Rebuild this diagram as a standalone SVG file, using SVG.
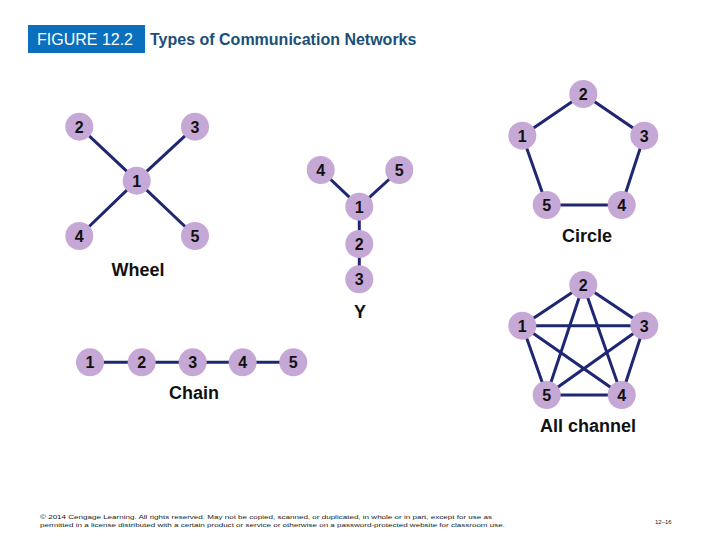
<svg xmlns="http://www.w3.org/2000/svg" width="720" height="540" viewBox="0 0 720 540">
<style>
.e{stroke:#1f2772;stroke-width:3;fill:none}
.n circle{fill:#c6a8d6}
.n text{font-family:"Liberation Sans",Arial,sans-serif;font-weight:bold;font-size:16px;fill:#111;text-anchor:middle}
.lbl{font-family:"Liberation Sans",Arial,sans-serif;font-weight:bold;font-size:18px;fill:#111;text-anchor:middle}
.foot{font-family:"Liberation Sans",Arial,sans-serif;font-size:6px;fill:#222}
</style>
<rect width="720" height="540" fill="#fff"/>
<g id="header">
<rect x="28" y="25" width="117" height="28" fill="#0a6fbd"/>
<text x="85" y="44.5" font-family="'Liberation Sans',Arial,sans-serif" font-size="16" fill="#fff" text-anchor="middle">FIGURE 12.2</text>
<text x="150" y="44.5" font-family="'Liberation Sans',Arial,sans-serif" font-size="16" font-weight="bold" fill="#1b4f78">Types of Communication Networks</text>
</g>
<g id="connectors">
<line class="e" x1="79.3" y1="126.7" x2="136.7" y2="180.7"/>
<line class="e" x1="195" y1="126.7" x2="136.7" y2="180.7"/>
<line class="e" x1="79.3" y1="236" x2="136.7" y2="180.7"/>
<line class="e" x1="195" y1="236" x2="136.7" y2="180.7"/>
<line class="e" x1="320.7" y1="170" x2="359.3" y2="206.7"/>
<line class="e" x1="399.3" y1="170" x2="359.3" y2="206.7"/>
<line class="e" x1="359.3" y1="206.7" x2="359.3" y2="279.3"/>
<polygon class="e" points="583.3,94 644.3,135.7 621.7,205 546.7,205 522.3,135.7"/>
<polygon class="e" points="583.3,285 644.3,325.7 621.7,395 546.7,395 522.3,325.7"/>
<polygon class="e" points="583.3,285 621.7,395 522.3,325.7 644.3,325.7 546.7,395"/>
<line class="e" x1="90" y1="362.3" x2="293.3" y2="362.3"/>
</g>
<g id="wheel">
<g id="w1" class="n"><circle cx="136.7" cy="180.7" r="14"/><text x="136.7" y="186.5">1</text></g>
<g id="w2" class="n"><circle cx="79.3" cy="126.7" r="14"/><text x="79.3" y="132.5">2</text></g>
<g id="w3" class="n"><circle cx="195" cy="126.7" r="14"/><text x="195" y="132.5">3</text></g>
<g id="w4" class="n"><circle cx="79.3" cy="236" r="14"/><text x="79.3" y="241.8">4</text></g>
<g id="w5" class="n"><circle cx="195" cy="236" r="14"/><text x="195" y="241.8">5</text></g>
<text class="lbl" x="138" y="276">Wheel</text>
</g>
<g id="y">
<g id="y1" class="n"><circle cx="359.3" cy="206.7" r="14"/><text x="359.3" y="212.5">1</text></g>
<g id="y2" class="n"><circle cx="359.3" cy="244" r="14"/><text x="359.3" y="249.8">2</text></g>
<g id="y3" class="n"><circle cx="359.3" cy="279.3" r="14"/><text x="359.3" y="285.1">3</text></g>
<g id="y4" class="n"><circle cx="320.7" cy="170" r="14"/><text x="320.7" y="175.8">4</text></g>
<g id="y5" class="n"><circle cx="399.3" cy="170" r="14"/><text x="399.3" y="175.8">5</text></g>
<text class="lbl" x="360" y="318">Y</text>
</g>
<g id="circle">
<g id="c1" class="n"><circle cx="522.3" cy="135.7" r="14"/><text x="522.3" y="141.5">1</text></g>
<g id="c2" class="n"><circle cx="583.3" cy="94" r="14"/><text x="583.3" y="99.8">2</text></g>
<g id="c3" class="n"><circle cx="644.3" cy="135.7" r="14"/><text x="644.3" y="141.5">3</text></g>
<g id="c4" class="n"><circle cx="621.7" cy="205" r="14"/><text x="621.7" y="210.8">4</text></g>
<g id="c5" class="n"><circle cx="546.7" cy="205" r="14"/><text x="546.7" y="210.8">5</text></g>
<text class="lbl" x="587" y="242">Circle</text>
</g>
<g id="allchannel">
<g id="a1" class="n"><circle cx="522.3" cy="325.7" r="14"/><text x="522.3" y="331.5">1</text></g>
<g id="a2" class="n"><circle cx="583.3" cy="285" r="14"/><text x="583.3" y="290.8">2</text></g>
<g id="a3" class="n"><circle cx="644.3" cy="325.7" r="14"/><text x="644.3" y="331.5">3</text></g>
<g id="a4" class="n"><circle cx="621.7" cy="395" r="14"/><text x="621.7" y="400.8">4</text></g>
<g id="a5" class="n"><circle cx="546.7" cy="395" r="14"/><text x="546.7" y="400.8">5</text></g>
<text class="lbl" x="588" y="432">All channel</text>
</g>
<g id="chain">
<g id="h1" class="n"><circle cx="90" cy="362.3" r="14"/><text x="90" y="368.1">1</text></g>
<g id="h2" class="n"><circle cx="141.7" cy="362.3" r="14"/><text x="141.7" y="368.1">2</text></g>
<g id="h3" class="n"><circle cx="192.7" cy="362.3" r="14"/><text x="192.7" y="368.1">3</text></g>
<g id="h4" class="n"><circle cx="242.7" cy="362.3" r="14"/><text x="242.7" y="368.1">4</text></g>
<g id="h5" class="n"><circle cx="293.3" cy="362.3" r="14"/><text x="293.3" y="368.1">5</text></g>
<text class="lbl" x="194" y="399">Chain</text>
</g>
<g id="footer">
<text class="foot" x="40" y="519" textLength="452" lengthAdjust="spacingAndGlyphs">© 2014 Cengage Learning. All rights reserved. May not be copied, scanned, or duplicated, in whole or in part, except for use as</text>
<text class="foot" x="40" y="527" textLength="465" lengthAdjust="spacingAndGlyphs">permitted in a license distributed with a certain product or service or otherwise on a password-protected website for classroom use.</text>
<text class="foot" x="655" y="524" font-size="7.5">12–16</text>
</g>
</svg>
